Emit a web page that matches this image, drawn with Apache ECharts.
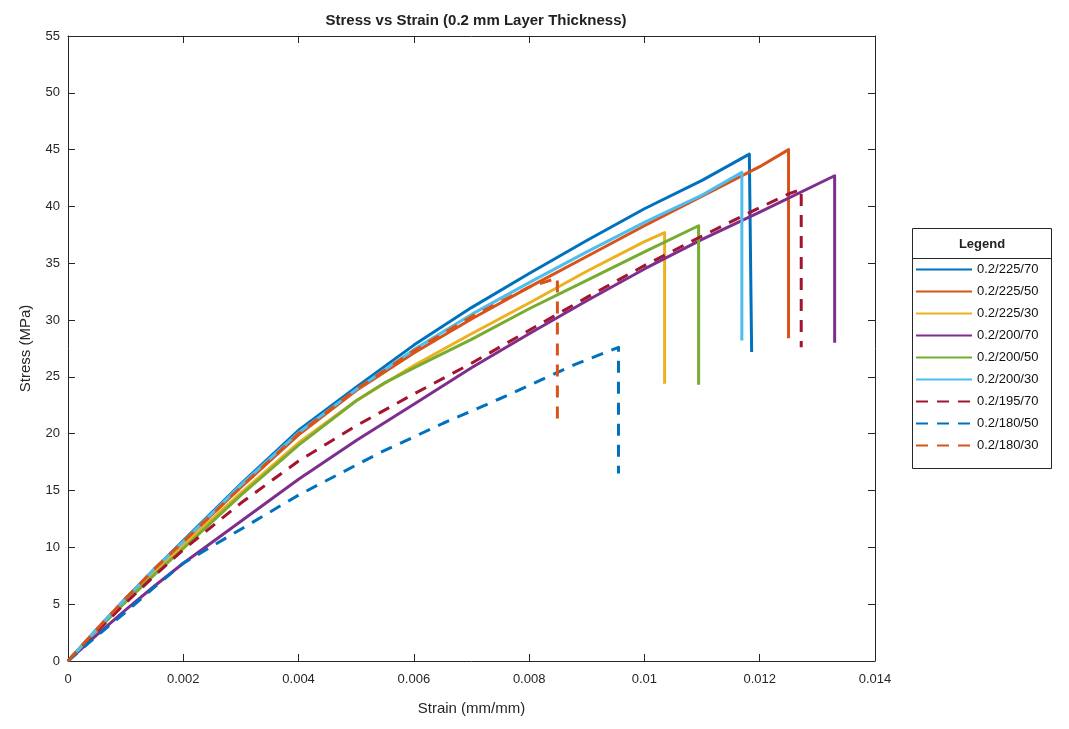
<!DOCTYPE html>
<html>
<head>
<meta charset="utf-8">
<script src="https://cdn.jsdelivr.net/npm/echarts@6/dist/echarts.min.js"></script>
<style>
html,body{margin:0;padding:0;background:#fff;}
#chart{width:1069px;height:729px;}
</style>
</head>
<body>
<div id="chart"></div>
<script>
// ---- Data ----
const xTicks = [0, 0.002, 0.004, 0.006, 0.008, 0.01, 0.012, 0.014];
const yTicks = [0, 5, 10, 15, 20, 25, 30, 35, 40, 45, 50, 55];

const seriesNames = ['0.2/225/70','0.2/225/50','0.2/225/30','0.2/200/70','0.2/200/50','0.2/200/30','0.2/195/70','0.2/180/50','0.2/180/30'];

const strain_225_70 = [0,0.0005,0.001,0.0015,0.002,0.003,0.004,0.005,0.006,0.007,0.008,0.009,0.010,0.011,0.01182,0.01186];
const stress_225_70 = [0,2.8,5.5,8.1,10.6,15.6,20.3,24.1,27.8,31.1,34.1,37.0,39.8,42.3,44.6,27.2];

const strain_225_50 = [0,0.0005,0.001,0.0015,0.002,0.003,0.004,0.005,0.006,0.007,0.008,0.009,0.010,0.011,0.012,0.0125,0.0125];
const stress_225_50 = [0,2.8,5.5,8.1,10.5,15.3,19.9,23.8,27.1,30.1,32.9,35.6,38.3,40.9,43.5,45.0,28.4];

const strain_225_30 = [0,0.0005,0.001,0.0015,0.002,0.003,0.004,0.005,0.006,0.007,0.008,0.009,0.010,0.01035,0.01035];
const stress_225_30 = [0,2.7,5.3,7.8,10.2,14.8,19.2,22.9,26.0,28.8,31.5,34.3,36.9,37.7,24.4];

const strain_200_70 = [0,0.0005,0.001,0.0015,0.002,0.003,0.004,0.005,0.006,0.007,0.008,0.009,0.010,0.011,0.012,0.0133,0.0133];
const stress_200_70 = [0,2.3,4.5,6.6,8.6,12.3,16.0,19.4,22.6,25.8,28.8,31.7,34.5,37.1,39.5,42.7,28.0];

const strain_200_50 = [0,0.0005,0.001,0.0015,0.002,0.003,0.004,0.005,0.0055,0.006,0.007,0.008,0.009,0.010,0.01094,0.01094];
const stress_200_50 = [0,2.7,5.2,7.6,9.9,14.6,19.0,22.9,24.5,25.8,28.3,31.0,33.5,36.0,38.3,24.3];

const strain_200_30 = [0,0.0005,0.001,0.0015,0.002,0.003,0.004,0.005,0.006,0.007,0.008,0.009,0.010,0.011,0.01169,0.01169];
const stress_200_30 = [0,2.8,5.5,8.1,10.5,15.5,20.1,23.9,27.4,30.5,33.3,36.0,38.6,41.0,43.0,28.2];

const strain_195_70 = [0,0.0005,0.001,0.0015,0.002,0.003,0.004,0.005,0.006,0.007,0.008,0.009,0.010,0.011,0.012,0.0125,0.01272,0.01272];
const stress_195_70 = [0,2.6,5.1,7.5,9.8,13.9,17.6,20.7,23.5,26.2,29.1,32.0,34.8,37.4,39.9,41.1,41.5,27.6];

const strain_180_50 = [0,0.0005,0.001,0.0015,0.002,0.003,0.004,0.0054,0.0065,0.0075,0.0088,0.00955,0.00955];
const stress_180_50 = [0,2.2,4.3,6.5,8.6,11.6,14.6,18.3,20.9,23.1,26.1,27.6,16.5];

const strain_180_30 = [0,0.0005,0.001,0.0015,0.002,0.003,0.004,0.005,0.006,0.007,0.008,0.00849,0.00849];
const stress_180_30 = [0,2.8,5.5,8.1,10.5,15.3,20.0,23.9,27.3,30.3,32.9,33.7,21.2];

// ---- build ----
const curves = [
  [strain_225_70, stress_225_70],
  [strain_225_50, stress_225_50],
  [strain_225_30, stress_225_30],
  [strain_200_70, stress_200_70],
  [strain_200_50, stress_200_50],
  [strain_200_30, stress_200_30],
  [strain_195_70, stress_195_70],
  [strain_180_50, stress_180_50],
  [strain_180_30, stress_180_30]
];
const colors = ['#0072BD','#D95319','#EDB120','#7E2F8E','#77AC30','#4DBEEE','#A2142F','#0072BD','#D95319'];
const dashed = [false,false,false,false,false,false,true,true,true];

const series = curves.map((c, i) => ({
  name: seriesNames[i],
  type: 'line',
  xAxisIndex: 0, yAxisIndex: 0,
  data: c[0].map((x, k) => [x, c[1][k]]),
  symbol: 'none',
  showSymbol: false,
  smooth: false,
  animation: false,
  lineStyle: {
    color: colors[i],
    width: 3,
    join: 'round',
    type: dashed[i] ? [12, 9] : 'solid'
  },
  itemStyle: { color: colors[i] }
}));

const axisCol = '#262626';
const fontFam = 'Liberation Sans, Arial, sans-serif';

const chart = echarts.init(document.getElementById('chart'), null, {renderer: 'canvas'});
chart.setOption({
  backgroundColor: '#ffffff',
  animation: false,
  title: {
    text: 'Stress vs Strain (0.2 mm Layer Thickness)',
    left: 471, top: 8, textAlign: 'center',
    textStyle: { fontFamily: fontFam, fontSize: 15, fontWeight: 'bold', color: '#222' }
  },
  grid: { left: 68, right: 194, top: 36, bottom: 68, containLabel: false, show: false },
  xAxis: [{
    type: 'value', min: 0, max: 0.014, interval: 0.002,
    name: 'Strain (mm/mm)', nameLocation: 'middle', nameGap: 40,
    nameTextStyle: { fontFamily: fontFam, fontSize: 15, color: axisCol },
    axisLine: { show: true, lineStyle: { color: axisCol, width: 1 } },
    axisTick: { show: true, inside: true, length: 7, lineStyle: { color: axisCol } },
    axisLabel: { fontFamily: fontFam, fontSize: 13, color: axisCol, margin: 12,
      formatter: v => String(+v.toFixed(3)) },
    splitLine: { show: false }
  }, {
    type: 'value', min: 0, max: 0.014, interval: 0.002, position: 'top',
    axisLine: { show: true, onZero: false, lineStyle: { color: axisCol, width: 1 } },
    axisTick: { show: true, inside: true, length: 7, lineStyle: { color: axisCol } },
    axisLabel: { show: false }, splitLine: { show: false }
  }],
  yAxis: [{
    type: 'value', min: 0, max: 55, interval: 5,
    name: 'Stress (MPa)', nameLocation: 'middle', nameGap: 35, nameRotate: 90,
    nameTextStyle: { fontFamily: fontFam, fontSize: 15, color: axisCol },
    axisLine: { show: true, onZero: false, lineStyle: { color: axisCol, width: 1 } },
    axisTick: { show: true, inside: true, length: 7, lineStyle: { color: axisCol } },
    axisLabel: { fontFamily: fontFam, fontSize: 13, color: axisCol, margin: 8 },
    splitLine: { show: false }
  }, {
    type: 'value', min: 0, max: 55, interval: 5, position: 'right',
    axisLine: { show: true, onZero: false, lineStyle: { color: axisCol, width: 1 } },
    axisTick: { show: true, inside: true, length: 7, lineStyle: { color: axisCol } },
    axisLabel: { show: false }, splitLine: { show: false }
  }],
  legend: {
    orient: 'vertical',
    left: 915, top: 263,
    itemWidth: 56, itemHeight: 14, itemGap: 9,
    padding: 0,
    itemStyle: { opacity: 0 },
    textStyle: { fontFamily: fontFam, fontSize: 13, color: '#111', padding: [0,0,0,0] },
    data: seriesNames.map(n => ({ name: n }))
  },
  graphic: [
    { type: 'rect', shape: { x: 912.5, y: 228.5, width: 139, height: 240 },
      style: { fill: '#fff', stroke: '#262626', lineWidth: 1 }, z: -1 },
    { type: 'line', shape: { x1: 913, y1: 258.5, x2: 1051, y2: 258.5 },
      style: { stroke: '#262626', lineWidth: 1 }, z: 1 },
    { type: 'text', x: 982, y: 244, z: 1,
      style: { text: 'Legend', fontFamily: fontFam, fontSize: 13, fontWeight: 'bold',
        fill: '#222', align: 'center', verticalAlign: 'middle' } }
  ],
  series: series
});
</script>
</body>
</html>
